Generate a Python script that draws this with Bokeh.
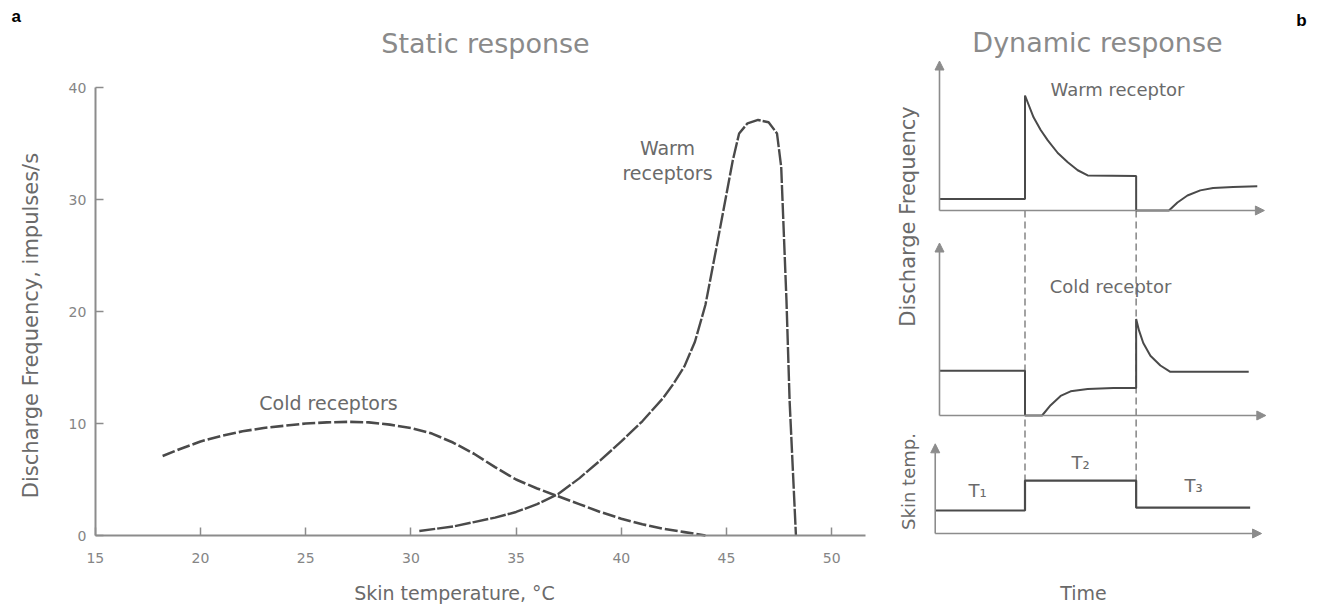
import math
from bokeh.plotting import figure
from bokeh.models import Range1d, Label, Arrow, NormalHead, FixedTicker, LinearAxis
from bokeh.embed import file_html
from bokeh.resources import INLINE

# ---------------- data: static response ----------------
cold_temp = [18.2, 19, 20, 21, 22, 23, 24, 25, 26, 27, 28, 29, 30, 31, 32, 33, 34,
             35, 36, 37, 38, 39, 40, 41, 42, 43, 44]
cold_rate = [7.1, 7.7, 8.4, 8.9, 9.3, 9.6, 9.8, 10.0, 10.1, 10.15, 10.1, 9.9, 9.6,
             9.1, 8.3, 7.3, 6.1, 5.0, 4.2, 3.5, 2.8, 2.1, 1.5, 1.0, 0.6, 0.3, 0.0]
warm_temp = [30.4, 32, 33, 34, 35, 36, 37, 38, 39, 40, 41, 42, 42.5, 43, 43.5, 44.0,
             44.5, 45.0, 45.3, 45.6, 46.0, 46.5, 47.0, 47.4, 47.6, 47.85, 48.0, 48.2, 48.3]
warm_rate = [0.4, 0.8, 1.2, 1.6, 2.1, 2.8, 3.7, 5.1, 6.7, 8.4, 10.2, 12.3, 13.6, 15.1,
             17.3, 20.6, 25.5, 30.5, 33.5, 35.9, 36.8, 37.1, 36.9, 35.9, 32.9, 21.0,
             12.0, 4.0, 0.0]
x_ticks = [15, 20, 25, 30, 35, 40, 45, 50]
y_ticks = [0, 10, 20, 30, 40]

# ---------------- data: dynamic response (schematic units) ----------------
warm_t = [0, 3.0, 3.0, 3.3, 3.55, 3.8, 4.15, 4.5, 4.85, 5.2, 6.9, 6.9, 8.05, 8.35,
          8.7, 9.15, 9.6, 10.3, 11.15]
warm_f = [1.0, 1.0, 10.0, 8.1, 7.0, 6.1, 5.0, 4.2, 3.5, 3.05, 3.0, 0.0, 0.0, 0.7,
          1.3, 1.75, 1.95, 2.05, 2.1]
cold_t = [0, 3.0, 3.0, 3.6, 3.9, 4.25, 4.6, 5.2, 6.1, 6.9, 6.9, 7.0, 7.15, 7.4,
          7.75, 8.1, 10.85]
cold_f = [3.9, 3.9, 0.0, 0.0, 0.9, 1.7, 2.1, 2.3, 2.4, 2.4, 8.4, 7.4, 6.3, 5.2,
          4.35, 3.8, 3.8]
skin_t = [-0.15, 3.0, 3.0, 6.9, 6.9, 10.9]
skin_T = [2.0, 2.0, 4.6, 4.6, 2.25, 2.25]
step_times = [3.0, 6.9]
T2_level = 4.6

TXT = "#6a6a6a"
TITLE = "#8a8a8a"
AX = "#8c8c8c"
LC = "#4a4a4a"
FONT = "DejaVu Sans"

W, H = 1316, 608

# ---- layout helpers: page pixel -> coordinates of each panel ----
XU, YU = 21.04, 11.2   # static panel: px per degC, px per impulse/s
TU, VU = 28.5, 11.5    # dynamic panels: px per time unit, px per frequency unit


def lx(px):
    return 20 + (px - 200) / XU


def ly(py):
    return (535 - py) / YU


def tx(px):
    return (px - 939) / TU


def wy(py):
    return (210 - py) / VU


def cy(py):
    return (415 - py) / VU


def sy(py):
    return (533 - py) / VU


p = figure(width=W, height=H, title=None,
           x_range=Range1d(lx(0), lx(W)), y_range=Range1d(ly(H), ly(0)),
           output_backend="svg", toolbar_location=None,
           x_axis_location=None, y_axis_location=None, min_border=0)
p.extra_x_ranges = {"time": Range1d(tx(0), tx(W))}
p.extra_y_ranges = {
    "warm": Range1d(wy(H), wy(0)),
    "cold": Range1d(cy(H), cy(0)),
    "skin": Range1d(sy(H), sy(0)),
}
p.grid.visible = False
p.outline_line_color = None
p.background_fill_color = "white"
p.border_fill_color = "white"

# ---------------- static panel axes ----------------
xaxis = LinearAxis(fixed_location=0, bounds=(15, 51.6),
                   ticker=FixedTicker(ticks=x_ticks))
yaxis = LinearAxis(fixed_location=15, bounds=(0, 40),
                   ticker=FixedTicker(ticks=y_ticks))
for ax in (xaxis, yaxis):
    ax.axis_line_color = AX
    ax.axis_line_width = 2
    ax.major_tick_line_color = AX
    ax.major_tick_line_width = 1.5
    ax.major_tick_in = 8
    ax.major_tick_out = 0
    ax.minor_tick_line_color = None
    ax.major_label_text_font = FONT
    ax.major_label_text_font_size = "14px"
    ax.major_label_text_color = "#858585"
xaxis.major_label_standoff = 17
yaxis.major_label_standoff = 9
p.add_layout(xaxis, "below")
p.add_layout(yaxis, "left")

p.line(cold_temp, cold_rate, line_color=LC, line_width=2.6, line_dash="13 3")
p.line(warm_temp, warm_rate, line_color=LC, line_width=2.4, line_dash="16 2")


def add(text, x, y, size, color=TXT, angle=0.0, bold=False, font=FONT,
        align="center", xr="default", yr="default"):
    p.add_layout(Label(x=x, y=y, text=text, text_font=font,
                       text_font_size=size, text_color=color, angle=angle,
                       text_align=align, text_baseline="middle",
                       text_font_style="bold" if bold else "normal",
                       x_range_name=xr, y_range_name=yr))


add("a", lx(11), ly(16), "17px", color="black", bold=True,
    font="Liberation Sans", align="left")
add("Static response", lx(485), ly(43), "27px", color=TITLE)
add("Discharge Frequency, impulses/s", lx(30), ly(325), "21px", angle=math.pi / 2)
add("Skin temperature, °C", lx(454), ly(592), "19px")
add("Cold receptors", lx(328), ly(402), "19px")
add("Warm", lx(667), ly(147), "19px")
add("receptors", lx(667), ly(172), "19px")

# ---------------- dynamic panels ----------------


def arrow(xs, ys, xe, ye, yr):
    p.add_layout(Arrow(end=NormalHead(size=9, fill_color=AX, line_color=AX),
                       x_start=xs, y_start=ys, x_end=xe, y_end=ye,
                       line_color=AX, line_width=1.6,
                       x_range_name="time", y_range_name=yr))


arrow(0, 0, 0, 13.0, "warm")
arrow(0, 0, 11.4, 0, "warm")
arrow(0, 0, 0, 15.0, "cold")
arrow(0, 0, 11.45, 0, "cold")
arrow(-0.15, 0, -0.15, 7.8, "skin")
arrow(-0.15, 0, 11.3, 0, "skin")

# dashed markers at the temperature steps (from the warm axis down to the T2 level)
dash_end = wy(533 - T2_level * VU)
p.segment(x0=step_times, y0=[0] * len(step_times), x1=step_times,
          y1=[dash_end] * len(step_times), line_color=AX, line_width=1.6,
          line_dash="7 4", x_range_name="time", y_range_name="warm")

p.line(warm_t, warm_f, line_color=LC, line_width=2,
       x_range_name="time", y_range_name="warm")
p.line(cold_t, cold_f, line_color=LC, line_width=2,
       x_range_name="time", y_range_name="cold")
p.line(skin_t, skin_T, line_color=LC, line_width=2.2,
       x_range_name="time", y_range_name="skin")

add("b", tx(1301), wy(20), "17px", color="black", bold=True,
    font="Liberation Sans", xr="time", yr="warm")
add("Dynamic response", tx(1097), wy(42), "27px", color=TITLE, xr="time", yr="warm")
add("Warm receptor", tx(1117), wy(89), "18px", xr="time", yr="warm")
add("Cold receptor", tx(1110), cy(286), "18px", xr="time", yr="cold")
add("Discharge Frequency", tx(907), wy(216), "21px", angle=math.pi / 2,
    xr="time", yr="warm")
add("Skin temp.", tx(908), sy(481), "18px", angle=math.pi / 2, xr="time", yr="skin")
add("T\u2081", tx(977), sy(490), "18px", xr="time", yr="skin")
add("T\u2082", tx(1080), sy(462), "18px", xr="time", yr="skin")
add("T\u2083", tx(1193), sy(485), "18px", xr="time", yr="skin")
add("Time", tx(1083), sy(592), "19px", xr="time", yr="skin")

open("out.html", "w").write(file_html(p, INLINE))
